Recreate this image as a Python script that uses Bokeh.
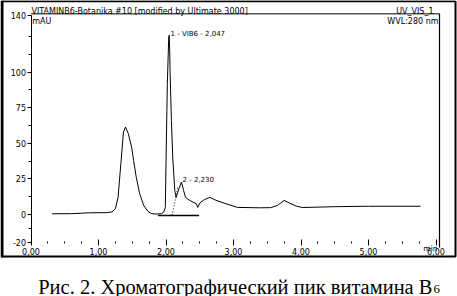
from bokeh.plotting import figure
from bokeh.models import FixedTicker, Label, Range1d
from bokeh.embed import file_html
from bokeh.resources import INLINE

# ---- data ----
rt = [0.31, 0.60, 0.87, 1.12, 1.20, 1.25, 1.29, 1.33, 1.37, 1.40, 1.44, 1.49, 1.52,
      1.56, 1.61, 1.67, 1.73, 1.78, 1.85, 1.93, 1.97, 1.99, 2.00, 2.02, 2.04, 2.047,
      2.055, 2.06, 2.08, 2.10, 2.13, 2.15, 2.19, 2.23, 2.26, 2.29, 2.35, 2.45, 2.47,
      2.50, 2.57, 2.65, 2.74, 2.89, 3.06, 3.38, 3.55, 3.65, 3.75, 3.83, 3.93, 4.02,
      4.50, 5.00, 5.77]
mau = [0.5, 0.6, 1.2, 1.3, 1.8, 4.0, 12.0, 35.0, 58.0, 61.5, 57.0, 47.4, 38.0,
       26.0, 14.6, 6.3, 2.3, 0.7, 0.3, 0.5, 2.0, 5.0, 36.0, 92.0, 124.0, 126.0,
       115.0, 101.0, 66.0, 40.0, 17.0, 12.0, 18.0, 22.8, 17.0, 12.0, 9.9, 7.5, 5.0,
       8.0, 10.5, 12.0, 10.0, 7.5, 5.0, 4.7, 4.8, 6.3, 9.9, 8.0, 5.9, 4.9,
       5.5, 5.8, 5.8]

base_rt = [1.88, 2.49]
base_mau = [-0.7, -0.7]
drop_rt = [2.09, 2.18]
drop_mau = [-0.5, 20.0]

x_ticks = [0, 1, 2, 3, 4, 5, 6]
x_labels = ["0,00", "1,00", "2,00", "3,00", "4,00", "5,00", "6,00"]
y_ticks = [-20, 0, 25, 50, 75, 100, 140]
y_labels = ["-20", "0", "25", "50", "75", "100", "140"]
y_minor = [-10, 12.5, 37.5, 62.5, 87.5, 112.5, 125]
x_minor = [i * 0.25 for i in range(0, 25)]

peak_labels = ["1 - VIB6 - 2,047", "2 - 2,230"]
peak_pos = [(2.067, 127.0), (2.244, 23.9)]

title_txt = "VITAMINB6-Botanika #10 [modified by Ultimate 3000]"
chan_txt = "UV_VIS_1"
unit_txt = "mAU"
wvl_txt = "WVL:280 nm"
xunit_txt = "min"
caption = "Рис. 2. Хроматографический пик витамина B"
caption_sub = "6"

X_END = 6.052   # right frame line (min)
Y_TOP = 141.0   # top frame line (mAU)

# page geometry: x0 at 30.5px, 67.5 px/min ; y0 at 214px, 1.423 px/mAU
W, H = 457, 296
PX0, PXS = 30.5, 67.5
PY0, PYS = 214.0, 1.423

def px2x(px):
    return (px - PX0) / PXS

def py2y(py):
    return (PY0 - py) / PYS

p = figure(width=W, height=H,
           x_range=Range1d(px2x(0), px2x(W)), y_range=Range1d(py2y(H), py2y(0)),
           output_backend="svg", toolbar_location=None, min_border=0)
p.title.visible = False
p.xgrid.visible = False
p.ygrid.visible = False
p.outline_line_color = None
p.background_fill_color = "white"
p.border_fill_color = "white"

# trace
p.line(rt, mau, line_color="black", line_width=1)
p.line(base_rt, base_mau, line_color="black", line_width=1.5)
p.line(drop_rt, drop_mau, line_color="black", line_width=1, line_dash="1 2")

# y axis (drawn at x = 0)
ya = p.yaxis[0]
ya.fixed_location = 0
ya.bounds = (-20, 140)
ya.ticker = FixedTicker(ticks=y_ticks, minor_ticks=y_minor)
ya.major_label_overrides = {t: l for t, l in zip(y_ticks, y_labels)}
ya.major_tick_in = 0
ya.major_tick_out = 4
ya.minor_tick_in = 0
ya.minor_tick_out = 3
ya.major_label_standoff = 1
ya.major_label_text_font = "DejaVu Sans"
ya.major_label_text_font_size = "8px"
ya.major_label_text_color = "black"
ya.axis_line_color = "black"
ya.major_tick_line_color = "black"
ya.minor_tick_line_color = "black"

# x axis (drawn at y = -20, no axis line)
xa = p.xaxis[0]
xa.fixed_location = -20
xa.bounds = (0, 6)
xa.ticker = FixedTicker(ticks=x_ticks, minor_ticks=x_minor)
xa.major_label_overrides = {t: l for t, l in zip(x_ticks, x_labels)}
xa.axis_line_color = None
xa.major_tick_in = 3
xa.major_tick_out = 3
xa.minor_tick_in = 1
xa.minor_tick_out = 1
xa.major_label_standoff = 2
xa.major_label_text_font = "DejaVu Sans"
xa.major_label_text_font_size = "8px"
xa.major_label_text_color = "black"
xa.major_tick_line_color = "black"
xa.minor_tick_line_color = "black"

# chart frame lines: top and right
p.line([0, X_END], [Y_TOP, Y_TOP], line_color="black", line_width=1)
p.line([X_END, X_END], [Y_TOP, py2y(247)], line_color="black", line_width=1.2)

# outer box of the figure panel
bx = [px2x(1.5), px2x(455), px2x(455), px2x(1.5), px2x(1.5)]
by = [py2y(0.8), py2y(0.8), py2y(256), py2y(256), py2y(0.8)]
p.line(bx, by, line_color="black", line_width=2)
p.line([px2x(1.5), px2x(1.5)], [py2y(0), py2y(257)], line_color="black", line_width=3)

def lab(x, y, t, align="left", font="DejaVu Sans", size="7px"):
    p.add_layout(Label(x=x, y=y, text=t, text_font=font, text_font_size=size,
                       text_align=align, text_baseline="alphabetic", text_color="black"))

lab(0.007, 142.4, title_txt, size="8px")
lab(px2x(433), 142.4, chan_txt, align="right", size="8px")
lab(0.017, 135.4, unit_txt, size="8px")
lab(px2x(438), 135.4, wvl_txt, align="right", size="8px")
for t, (x, y) in zip(peak_labels, peak_pos):
    lab(x, y, t)
lab(px2x(437), py2y(247.5), xunit_txt, align="right", size="7.5px")

lab(px2x(432), py2y(286), caption, align="right", font="Liberation Serif", size="20.5px")
lab(px2x(433), py2y(288.5), caption_sub, font="Liberation Serif", size="13px")

open("out.html", "w").write(file_html(p, INLINE))
